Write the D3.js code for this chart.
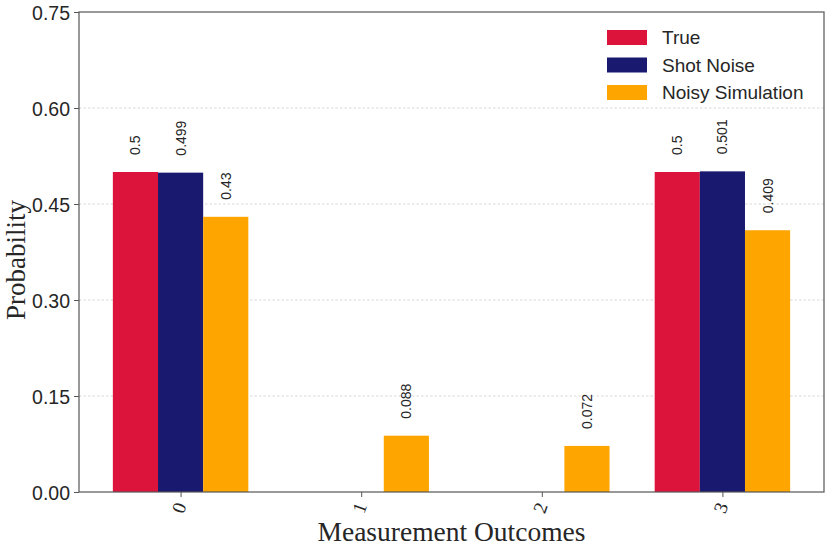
<!DOCTYPE html>
<html>
<head>
<meta charset="utf-8">
<script src="https://cdn.jsdelivr.net/npm/d3@7"></script>
<style>
  body { margin: 0; background: #fff; }
  svg { display: block; }
</style>
</head>
<body>
<div id="chart"></div>
<script>
var outcomes  = ["0", "1", "2", "3"];
var seriesNames = ["True", "Shot Noise", "Noisy Simulation"];
var trueVals  = [0.5, 0, 0, 0.5];
var shotVals  = [0.499, 0, 0, 0.501];
var noisyVals = [0.43, 0.088, 0.072, 0.409];
var yTicks = [0, 0.15, 0.30, 0.45, 0.60, 0.75];
var colors = ["#DC143C", "#191970", "#FFA500"];

var W = 831, H = 550;
var margin = {top: 12, left: 79, right: 7, bottom: 58},
    width  = W - margin.left - margin.right,
    height = H - margin.top - margin.bottom;

var sans = "'Liberation Sans', Arial, sans-serif",
    serif = "'Liberation Serif', 'Times New Roman', serif";

var series = [trueVals, shotVals, noisyVals];

var svg = d3.select("#chart").append("svg")
    .attr("width", W).attr("height", H);

var g = svg.append("g").attr("transform", "translate(" + margin.left + "," + margin.top + ")");

var x = d3.scaleLinear().domain([-0.5625, 3.5625]).range([0, width]);
var y = d3.scaleLinear().domain([0, 0.75]).range([height, 0]);
var bw = 0.25;

// grid
g.selectAll(".grid").data(yTicks.slice(1, -1)).enter().append("line")
  .attr("x1", 0).attr("x2", width)
  .attr("y1", function(d) { return y(d); }).attr("y2", function(d) { return y(d); })
  .attr("stroke", "#cfcfcf").attr("stroke-width", 0.8).attr("stroke-dasharray", "2.5,2");

// bars + value labels
series.forEach(function(vals, si) {
  var off = (si - 1) * bw;
  g.append("g").selectAll("rect").data(vals).enter().append("rect")
    .attr("x", function(d, i) { return x(i + off - bw / 2); })
    .attr("width", x(bw) - x(0))
    .attr("y", function(d) { return y(d); })
    .attr("height", function(d) { return y(0) - y(d); })
    .attr("fill", colors[si]);
  vals.forEach(function(v, i) {
    if (v <= 0) return;
    g.append("text")
      .attr("transform", "translate(" + (x(i + off) + 5) + "," + (y(v) - 17) + ") rotate(-90)")
      .attr("font-family", sans)
      .attr("font-size", 14).attr("fill", "#262626")
      .text(String(v));
  });
});

// y axis
var yAxis = g.append("g").call(d3.axisLeft(y).tickValues(yTicks).tickFormat(d3.format(".2f")).tickSize(5).tickPadding(4));
yAxis.select(".domain").remove();
yAxis.selectAll("line").attr("stroke", "#555");
yAxis.selectAll("text").attr("font-family", sans).attr("font-size", 19.5).attr("fill", "#262626").attr("dy", "0.36em");

// x axis
var xAxis = g.append("g").attr("transform", "translate(0," + height + ")")
  .call(d3.axisBottom(x).tickValues([0, 1, 2, 3]).tickFormat(function(d) { return outcomes[d]; }).tickSize(5));
xAxis.select(".domain").remove();
xAxis.selectAll("line").attr("stroke", "#555");
xAxis.selectAll("text")
  .attr("font-family", serif).attr("font-size", 19).attr("fill", "#262626")
  .attr("y", 0).attr("dy", 0)
  .attr("text-anchor", "middle")
  .attr("transform", "translate(4,18) rotate(-70)");

// frame
g.append("rect").attr("x", 0).attr("y", 0).attr("width", width).attr("height", height)
  .attr("fill", "none").attr("stroke", "#555").attr("stroke-width", 1.2);

// axis titles
svg.append("text")
  .attr("x", margin.left + width / 2).attr("y", 541)
  .attr("text-anchor", "middle")
  .attr("font-family", serif).attr("font-size", 27.5).attr("fill", "#262626")
  .text("Measurement Outcomes");
svg.append("text")
  .attr("transform", "translate(25," + (margin.top + height / 2 + 8) + ") rotate(-90)")
  .attr("text-anchor", "middle")
  .attr("font-family", serif).attr("font-size", 27).attr("fill", "#262626")
  .text("Probability");

// legend
var leg = svg.append("g").attr("transform", "translate(607,30)");
seriesNames.forEach(function(name, i) {
  leg.append("rect").attr("x", 0).attr("y", i * 27.5).attr("width", 40).attr("height", 15).attr("fill", colors[i]);
  leg.append("text").attr("x", 55).attr("y", i * 27.5 + 14)
    .attr("font-family", sans).attr("font-size", 19).attr("fill", "#262626")
    .text(name);
});
</script>
</body>
</html>
